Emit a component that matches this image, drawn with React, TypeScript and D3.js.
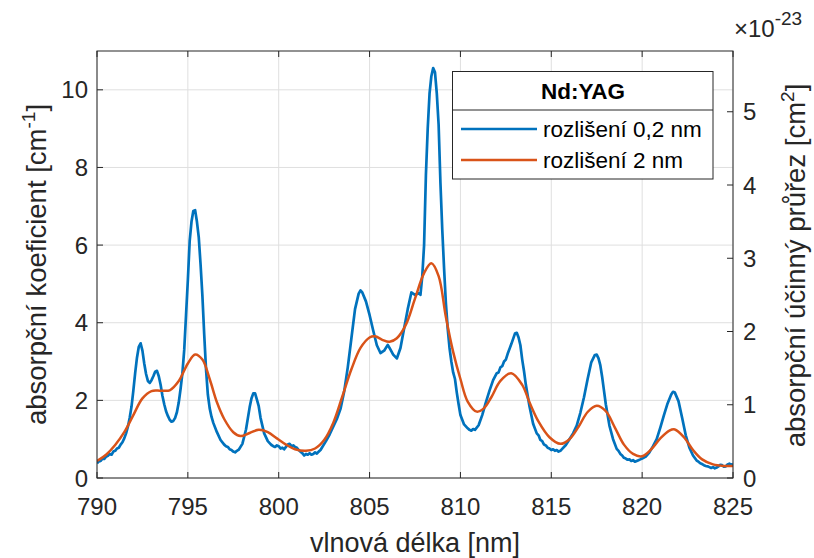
import React from "react";
import * as d3 from "d3";

const xTicks = [790, 795, 800, 805, 810, 815, 820, 825];
const yLeftTicks = [0, 2, 4, 6, 8, 10];
const yRightTicks = [0, 1, 2, 3, 4, 5];

const blueX = [
  790.0, 790.1, 790.2, 790.3, 790.4, 790.5, 790.6, 790.7, 790.8, 790.9, 791.0, 791.1, 791.2, 791.3, 791.4, 791.5, 791.6, 791.7, 791.8, 791.9,
  792.0, 792.1, 792.2, 792.3, 792.4, 792.5, 792.6, 792.7, 792.8, 792.9, 793.0, 793.1, 793.2, 793.3, 793.4, 793.5, 793.6, 793.7, 793.8, 793.9,
  794.0, 794.1, 794.2, 794.3, 794.4, 794.5, 794.6, 794.7, 794.8, 794.9, 795.0, 795.1, 795.2, 795.3, 795.4, 795.5, 795.6, 795.7, 795.8, 795.9,
  796.0, 796.1, 796.2, 796.3, 796.4, 796.6, 796.8, 797.0, 797.1, 797.2, 797.3, 797.4, 797.5, 797.6, 797.7, 797.8, 798.0, 798.2, 798.4, 798.5,
  798.6, 798.7, 798.8, 798.9, 799.0, 799.2, 799.4, 799.5, 799.6, 799.7, 799.8, 799.9, 800.0, 800.1, 800.2, 800.3, 800.4, 800.5, 800.6, 800.7,
  800.8, 800.9, 801.0, 801.1, 801.2, 801.3, 801.4, 801.5, 801.6, 801.7, 801.8, 801.9, 802.0, 802.1, 802.2, 802.3, 802.4, 802.6, 802.8, 803.0,
  803.2, 803.4, 803.6, 803.8, 804.0, 804.2, 804.4, 804.5, 804.6, 804.8, 805.0, 805.2, 805.4, 805.6, 805.8, 806.0, 806.1, 806.3, 806.5, 806.7,
  806.9, 807.1, 807.3, 807.5, 807.7, 807.8, 807.9, 808.0, 808.1, 808.2, 808.3, 808.4, 808.5, 808.6, 808.7, 808.8, 808.9, 809.0, 809.1, 809.2,
  809.3, 809.4, 809.5, 809.6, 809.7, 809.8, 809.9, 810.0, 810.2, 810.4, 810.5, 810.6, 810.7, 810.8, 811.0, 811.2, 811.4, 811.6, 811.8, 812.0,
  812.1, 812.2, 812.3, 812.4, 812.5, 812.6, 812.8, 813.0, 813.1, 813.2, 813.3, 813.4, 813.5, 813.6, 813.8, 814.0, 814.2, 814.3, 814.4, 814.5,
  814.6, 814.7, 814.8, 814.9, 815.0, 815.1, 815.2, 815.3, 815.4, 815.5, 815.6, 815.8, 816.0, 816.2, 816.4, 816.6, 816.8, 817.0, 817.2, 817.4,
  817.5, 817.6, 817.7, 817.8, 817.9, 818.0, 818.2, 818.4, 818.6, 818.7, 818.8, 818.9, 819.0, 819.1, 819.2, 819.3, 819.4, 819.5, 819.6, 819.7,
  819.8, 819.9, 820.0, 820.2, 820.4, 820.6, 820.8, 821.0, 821.2, 821.4, 821.6, 821.7, 821.8, 822.0, 822.2, 822.4, 822.6, 822.8, 823.0, 823.1,
  823.2, 823.3, 823.4, 823.5, 823.6, 823.7, 823.8, 823.9, 824.0, 824.1, 824.2, 824.3, 824.4, 824.5, 824.6, 824.7, 824.8, 824.9, 825.0,
];
const blueY = [
  0.38, 0.43, 0.44, 0.50, 0.49, 0.55, 0.57, 0.62, 0.60, 0.68, 0.70, 0.76, 0.78, 0.86, 0.92, 1.02, 1.15, 1.32, 1.55, 1.84,
  2.25, 2.70, 3.10, 3.38, 3.47, 3.28, 2.95, 2.68, 2.50, 2.45, 2.52, 2.62, 2.74, 2.76, 2.62, 2.40, 2.12, 1.90, 1.72, 1.60,
  1.50, 1.45, 1.47, 1.55, 1.70, 1.95, 2.30, 2.70, 3.30, 4.20, 5.10, 6.10, 6.60, 6.88, 6.90, 6.60, 6.20, 5.50, 4.70, 3.70,
  2.80, 2.15, 1.80, 1.58, 1.42, 1.18, 0.98, 0.86, 0.82, 0.80, 0.74, 0.72, 0.68, 0.66, 0.70, 0.73, 0.88, 1.25, 1.82, 2.05,
  2.18, 2.18, 2.02, 1.85, 1.55, 1.15, 0.95, 0.90, 0.85, 0.82, 0.80, 0.84, 0.82, 0.76, 0.78, 0.74, 0.80, 0.86, 0.88, 0.82,
  0.84, 0.80, 0.78, 0.72, 0.68, 0.64, 0.58, 0.62, 0.60, 0.64, 0.60, 0.62, 0.66, 0.63, 0.68, 0.72, 0.80, 0.95, 1.12, 1.32,
  1.52, 1.78, 2.22, 2.85, 3.60, 4.35, 4.75, 4.83, 4.78, 4.55, 4.20, 3.80, 3.42, 3.22, 3.28, 3.43, 3.35, 3.18, 3.08, 3.35,
  3.85, 4.35, 4.78, 4.72, 4.76, 4.72, 5.20, 6.00, 7.80, 9.00, 9.90, 10.35, 10.56, 10.45, 9.90, 9.10, 7.60, 6.40, 5.40, 4.50,
  3.85, 3.35, 3.00, 2.72, 2.55, 2.20, 1.90, 1.62, 1.38, 1.28, 1.24, 1.22, 1.26, 1.24, 1.36, 1.62, 1.95, 2.25, 2.52, 2.70,
  2.72, 2.85, 2.88, 3.00, 3.05, 3.20, 3.45, 3.72, 3.74, 3.62, 3.42, 3.05, 2.75, 2.40, 1.85, 1.40, 1.15, 1.10, 0.98, 0.95,
  0.86, 0.84, 0.78, 0.76, 0.72, 0.74, 0.70, 0.72, 0.68, 0.70, 0.75, 0.85, 1.00, 1.15, 1.35, 1.68, 2.08, 2.55, 2.98, 3.17,
  3.18, 3.08, 2.90, 2.60, 2.25, 1.90, 1.35, 1.00, 0.75, 0.70, 0.62, 0.58, 0.52, 0.50, 0.47, 0.48, 0.44, 0.46, 0.42, 0.44,
  0.46, 0.48, 0.50, 0.55, 0.66, 0.82, 1.00, 1.30, 1.62, 1.92, 2.15, 2.22, 2.20, 1.98, 1.55, 1.10, 0.78, 0.58, 0.45, 0.42,
  0.38, 0.36, 0.33, 0.31, 0.30, 0.28, 0.26, 0.28, 0.25, 0.27, 0.30, 0.34, 0.33, 0.29, 0.30, 0.35, 0.37, 0.34, 0.36,
];

const orangeX = [
  790.0, 790.5, 791.0, 791.5, 792.0, 792.5, 793.0, 793.5, 794.0, 794.5, 795.0, 795.4, 795.8, 796.2, 796.6, 797.0, 797.5, 797.9, 798.4, 798.9,
  799.4, 799.9, 800.4, 800.9, 801.5, 802.0, 802.5, 803.0, 803.5, 804.0, 804.5, 805.0, 805.3, 805.7, 806.1, 806.5, 807.0, 807.5, 808.0, 808.4,
  808.8, 809.2, 809.6, 810.0, 810.4, 810.9, 811.3, 811.7, 812.2, 812.8, 813.4, 813.8, 814.3, 814.9, 815.5, 816.0, 816.5, 817.0, 817.5, 818.0,
  818.5, 819.0, 819.5, 820.0, 820.5, 821.0, 821.5, 821.8, 822.3, 822.8, 823.3, 823.9, 824.5, 825.0,
];
const orangeY = [
  0.44, 0.60, 0.85, 1.18, 1.62, 2.05, 2.24, 2.25, 2.26, 2.50, 2.95, 3.18, 3.05, 2.55, 1.95, 1.52, 1.18, 1.08, 1.16, 1.24,
  1.18, 1.02, 0.86, 0.74, 0.70, 0.76, 0.98, 1.42, 2.10, 2.80, 3.35, 3.62, 3.65, 3.56, 3.51, 3.60, 3.95, 4.62, 5.28, 5.53,
  5.20, 4.15, 3.25, 2.55, 1.97, 1.71, 1.80, 2.08, 2.50, 2.70, 2.40, 1.95, 1.45, 1.05, 0.88, 1.00, 1.32, 1.70, 1.86, 1.72,
  1.30, 0.86, 0.62, 0.56, 0.74, 1.02, 1.22, 1.25, 1.05, 0.72, 0.48, 0.35, 0.31, 0.31,
];

const W = 814;
const H = 558;
const L = 97;
const R = 733;
const T = 51;
const B = 478;
const INK = "#262626";
const GRID = "#dfdfdf";
const FONT = "'Liberation Sans', Arial, Helvetica, sans-serif";

export default function App() {
  const x = d3.scaleLinear().domain([790, 825]).range([L, R]);
  const yL = d3.scaleLinear().domain([0, 11]).range([B, T]);
  const yR = d3.scaleLinear().domain([0, 11 / 1.887]).range([B, T]);

  const blue = blueX.map((v, i) => [v, blueY[i]] as [number, number]);
  const orange = orangeX.map((v, i) => [v, orangeY[i]] as [number, number]);

  const lineB = d3.line<[number, number]>().x((d) => x(d[0])).y((d) => yL(d[1]));
  const lineO = d3
    .line<[number, number]>()
    .x((d) => x(d[0]))
    .y((d) => yL(d[1]))
    .curve(d3.curveCatmullRom.alpha(0.5));

  const tk = 6;
  return (
    <svg
      width={W}
      height={H}
      style={{ position: "absolute", left: 0, top: 0, background: "#fff" }}
      fontFamily={FONT}
    >
      <defs>
        <clipPath id="plot">
          <rect x={L} y={T} width={R - L} height={B - T} />
        </clipPath>
      </defs>
      <rect x={0} y={0} width={W} height={H} fill="#fff" />
      {xTicks.map((t) => (
        <line key={"gx" + t} x1={x(t)} x2={x(t)} y1={T} y2={B} stroke={GRID} strokeWidth={1} />
      ))}
      {yLeftTicks.map((t) => (
        <line key={"gy" + t} x1={L} x2={R} y1={yL(t)} y2={yL(t)} stroke={GRID} strokeWidth={1} />
      ))}
      <g clipPath="url(#plot)">
        <path d={lineB(blue) || ""} fill="none" stroke="#0072BD" strokeWidth={2.7} strokeLinejoin="round" />
        <path d={lineO(orange) || ""} fill="none" stroke="#D95319" strokeWidth={2.5} strokeLinejoin="round" />
      </g>
      <rect x={L} y={T} width={R - L} height={B - T} fill="none" stroke={INK} strokeWidth={1} />
      {xTicks.map((t) => (
        <g key={"xt" + t}>
          <line x1={x(t)} x2={x(t)} y1={B} y2={B - tk} stroke={INK} />
          <line x1={x(t)} x2={x(t)} y1={T} y2={T + tk} stroke={INK} />
          <text x={x(t)} y={515} textAnchor="middle" fontSize={24} fill={INK}>
            {t}
          </text>
        </g>
      ))}
      {yLeftTicks.map((t) => (
        <g key={"yl" + t}>
          <line x1={L} x2={L + tk} y1={yL(t)} y2={yL(t)} stroke={INK} />
          <text x={88} y={yL(t)} dy="0.36em" textAnchor="end" fontSize={24} fill={INK}>
            {t}
          </text>
        </g>
      ))}
      {yRightTicks.map((t) => (
        <g key={"yr" + t}>
          <line x1={R} x2={R - tk} y1={yR(t)} y2={yR(t)} stroke={INK} />
          <text x={743} y={yR(t)} dy="0.36em" textAnchor="start" fontSize={24} fill={INK}>
            {t}
          </text>
        </g>
      ))}
      <text x={734} y={37} fontSize={24} fill={INK}>
        ×10
        <tspan dy={-12} fontSize={19}>
          -23
        </tspan>
      </text>
      <text x={415} y={552} textAnchor="middle" fontSize={27} fill={INK}>
        vlnová délka [nm]
      </text>
      <text transform={`translate(46,${(T + B) / 2}) rotate(-90)`} textAnchor="middle" fontSize={27.5} fill={INK}>
        absorpční koeficient [cm
        <tspan dy={-11} fontSize={19}>
          -1
        </tspan>
        <tspan dy={11}>]</tspan>
      </text>
      <text transform={`translate(805,${(T + B) / 2 + 1}) rotate(-90)`} textAnchor="middle" fontSize={27.5} fill={INK}>
        absorpční účinný průřez [cm
        <tspan dy={-11} fontSize={19}>
          2
        </tspan>
        <tspan dy={11}>]</tspan>
      </text>
      <g>
        <rect x={452.5} y={71.5} width={260.5} height={107.5} fill="#fff" stroke={INK} strokeWidth={1} />
        <line x1={452.5} x2={713} y1={110} y2={110} stroke={INK} strokeWidth={1} />
        <text x={583} y={99} textAnchor="middle" fontSize={22.5} fontWeight="bold" fill="#000">
          Nd:YAG
        </text>
        <line x1={461} x2={537} y1={129} y2={129} stroke="#0072BD" strokeWidth={2.5} />
        <text x={543} y={137} fontSize={22.5} fill="#000">
          rozlišení 0,2 nm
        </text>
        <line x1={461} x2={537} y1={160} y2={160} stroke="#D95319" strokeWidth={2.5} />
        <text x={543} y={168} fontSize={22.5} fill="#000">
          rozlišení 2 nm
        </text>
      </g>
    </svg>
  );
}
